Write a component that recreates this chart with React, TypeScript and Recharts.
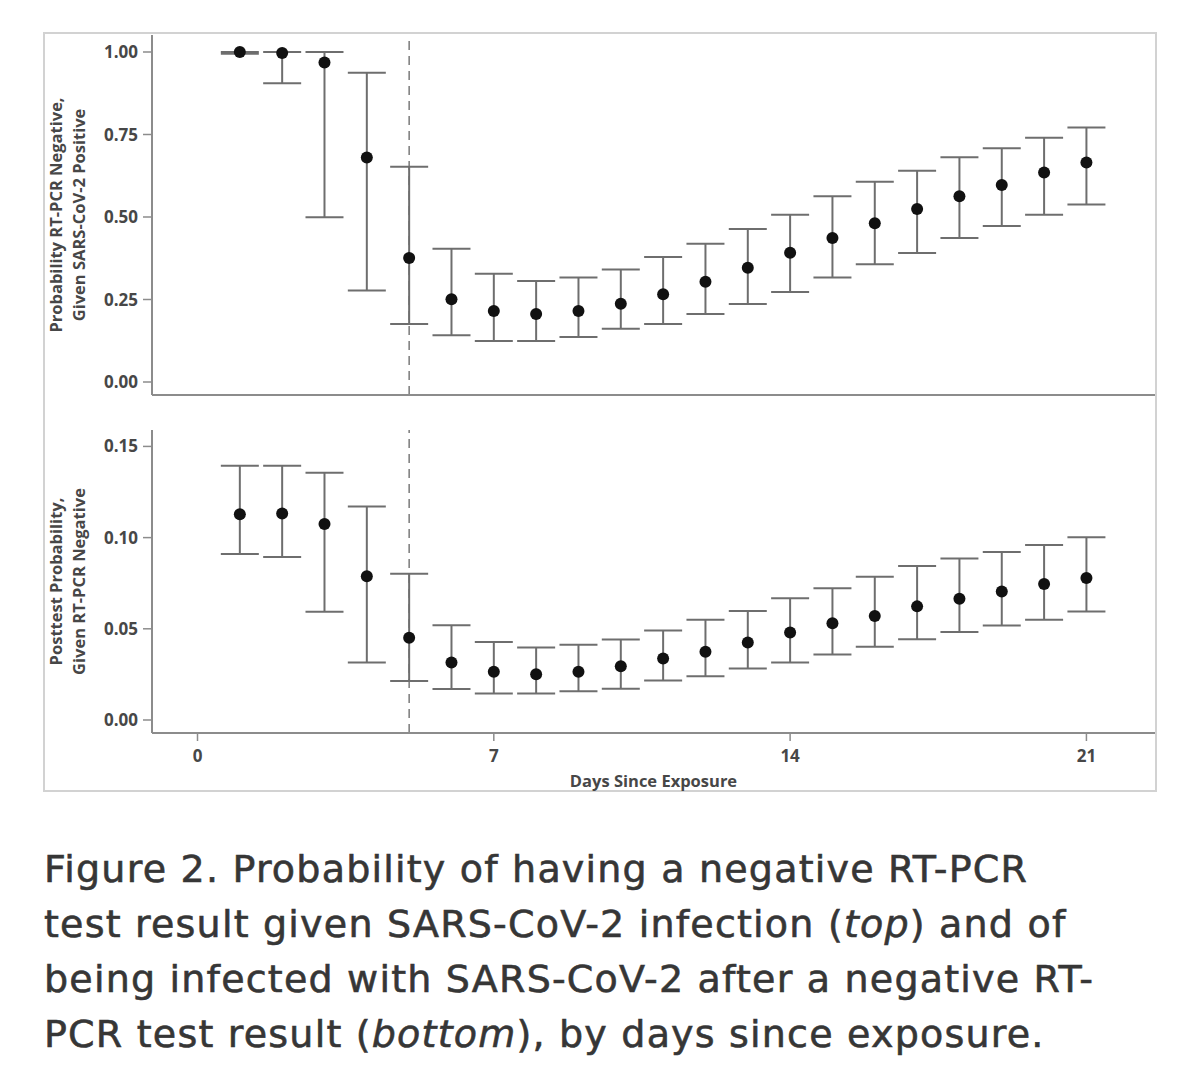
import React from 'react';
import { ScatterChart, Scatter, XAxis, YAxis, ErrorBar, ReferenceLine } from 'recharts';

// days since exposure
const days = [1, 2, 3, 4, 5, 6, 7, 8, 9, 10, 11, 12, 13, 14, 15, 16, 17, 18, 19, 20, 21];

// top: P(RT-PCR negative | infected)
const topMean = [1.0, 0.997, 0.968, 0.68, 0.376, 0.251, 0.215, 0.206, 0.215, 0.237, 0.266, 0.304, 0.346, 0.392, 0.436, 0.481, 0.524, 0.563, 0.597, 0.635, 0.665];
const topLow = [0.995, 0.905, 0.499, 0.277, 0.176, 0.142, 0.124, 0.124, 0.136, 0.161, 0.176, 0.206, 0.236, 0.273, 0.317, 0.357, 0.391, 0.436, 0.473, 0.507, 0.538];
const topHigh = [1.0, 1.0, 1.0, 0.937, 0.652, 0.404, 0.328, 0.306, 0.317, 0.341, 0.379, 0.419, 0.464, 0.507, 0.563, 0.607, 0.64, 0.681, 0.708, 0.74, 0.771];

// bottom: posttest probability given negative result
const bottomMean = [0.1128, 0.1132, 0.1075, 0.0788, 0.0451, 0.0315, 0.0264, 0.0251, 0.0264, 0.0295, 0.0337, 0.0374, 0.0425, 0.048, 0.0531, 0.057, 0.0623, 0.0665, 0.0705, 0.0746, 0.0779];
const bottomLow = [0.091, 0.0894, 0.0593, 0.0315, 0.0214, 0.017, 0.0145, 0.0145, 0.0158, 0.0172, 0.0216, 0.024, 0.0282, 0.0315, 0.0359, 0.0401, 0.0443, 0.0482, 0.0518, 0.0549, 0.0595];
const bottomHigh = [0.1394, 0.1394, 0.1355, 0.117, 0.0802, 0.052, 0.0427, 0.0397, 0.0412, 0.0441, 0.0491, 0.0549, 0.0597, 0.0667, 0.0723, 0.0786, 0.0844, 0.0885, 0.0921, 0.096, 0.1002];

const topTicks = [0, 0.25, 0.5, 0.75, 1];
const bottomTicks = [0, 0.05, 0.1, 0.15];
const dayTicks = [0, 7, 14, 21];
const cutoffDay = 5;

const topTitle = ['Probability RT-PCR Negative,', 'Given SARS-CoV-2 Positive'];
const bottomTitle = ['Posttest Probability,', 'Given RT-PCR Negative'];
const xTitle = 'Days Since Exposure';

const toRows = (mean: number[], low: number[], high: number[]) =>
  days.map((d, i) => ({ day: d, p: mean[i], err: [mean[i] - low[i], high[i] - mean[i]] }));

const topRows = toRows(topMean, topLow, topHigh);
const bottomRows = toRows(bottomMean, bottomLow, bottomHigh);

const AXIS = '#8c8c8c';
const BAR = '#6e6e6e';
const TEXT = '#474747';
const FONT = '"Open Sans", sans-serif';
const xDomain = [-1.075, 22.62];

const tickStyle = { fill: TEXT, fontSize: 17, fontWeight: 700, fontFamily: FONT };

const Dot = (props: any) => <circle cx={props.cx} cy={props.cy} r={6} fill="#111" />;

function YTitle({ lines, cy }: { lines: string[]; cy: number }) {
  return (
    <g>
      {lines.map((t, i) => {
        const x = 11 + i * 23;
        return (
          <text
            key={t}
            x={x}
            y={cy}
            transform={`rotate(-90 ${x} ${cy})`}
            textAnchor="middle"
            dominantBaseline="central"
            fill={TEXT}
            fontSize={16.5}
            fontWeight={700}
            fontFamily={FONT}
          >
            {t}
          </text>
        );
      })}
    </g>
  );
}

export default function App() {
  return (
    <div style={{ position: 'relative', width: 1184, height: 1054 }}>
      <div
        style={{
          position: 'absolute',
          left: 35,
          top: 24,
          width: 1110,
          height: 756,
          border: '2px solid #d2d2d2',
        }}
      />

      <div style={{ position: 'absolute', left: 36, top: 25 }}>
        <ScatterChart width={1112} height={370} margin={{ top: 2, right: 1, bottom: 0, left: 0 }}>
          <XAxis
            dataKey="day"
            type="number"
            domain={xDomain}
            allowDataOverflow
            height={8}
            tick={false}
            tickLine={false}
            axisLine={{ stroke: AXIS, strokeWidth: 2 }}
          />
          <YAxis
            dataKey="p"
            type="number"
            width={108}
            domain={[-0.0394, 1.0515]}
            allowDataOverflow
            ticks={topTicks}
            tickFormatter={(v: number) => v.toFixed(2)}
            tick={tickStyle}
            tickSize={9}
            tickMargin={5}
            tickLine={{ stroke: AXIS, strokeWidth: 1.5 }}
            axisLine={{ stroke: AXIS, strokeWidth: 2 }}
            label={{ content: () => <YTitle lines={topTitle} cy={182} /> }}
          />
          <ReferenceLine x={cutoffDay} stroke="#7a7a7a" strokeWidth={1.5} strokeDasharray="9 6" />
          <Scatter data={topRows} shape={Dot} isAnimationActive={false}>
            <ErrorBar dataKey="err" direction="y" width={19} stroke={BAR} strokeWidth={2} isAnimationActive={false} />
          </Scatter>
        </ScatterChart>
      </div>

      <div style={{ position: 'absolute', left: 36, top: 395 }}>
        <ScatterChart width={1112} height={388} margin={{ top: 27, right: 1, bottom: 0, left: 0 }}>
          <XAxis
            dataKey="day"
            type="number"
            domain={xDomain}
            allowDataOverflow
            height={58}
            ticks={dayTicks}
            tick={tickStyle}
            tickSize={8}
            tickMargin={9}
            tickLine={{ stroke: AXIS, strokeWidth: 1.5 }}
            axisLine={{ stroke: AXIS, strokeWidth: 2 }}
            label={{
              content: () => (
                <text
                  x={609.5}
                  y={377}
                  textAnchor="middle"
                  dominantBaseline="central"
                  fill={TEXT}
                  fontSize={16.5}
                  fontWeight={700}
                  fontFamily={FONT}
                >
                  {xTitle}
                </text>
              ),
            }}
          />
          <YAxis
            dataKey="p"
            type="number"
            width={108}
            domain={[-0.00713, 0.159]}
            allowDataOverflow
            ticks={bottomTicks}
            tickFormatter={(v: number) => v.toFixed(2)}
            tick={tickStyle}
            tickSize={9}
            tickMargin={5}
            tickLine={{ stroke: AXIS, strokeWidth: 1.5 }}
            axisLine={{ stroke: AXIS, strokeWidth: 2 }}
            label={{ content: () => <YTitle lines={bottomTitle} cy={178.5} /> }}
          />
          <ReferenceLine x={cutoffDay} stroke="#7a7a7a" strokeWidth={1.5} strokeDasharray="9 6" />
          <Scatter data={bottomRows} shape={Dot} isAnimationActive={false}>
            <ErrorBar dataKey="err" direction="y" width={19} stroke={BAR} strokeWidth={2} isAnimationActive={false} />
          </Scatter>
        </ScatterChart>
      </div>

      <div
        style={{
          position: 'absolute',
          left: 36,
          top: 834,
          fontFamily: '"DejaVu Sans", sans-serif',
          fontSize: 38,
          letterSpacing: 1.2,
          lineHeight: '55px',
          color: '#363636',
          WebkitTextStroke: '0.6px #363636',
          whiteSpace: 'nowrap',
        }}
      >
        Figure 2. Probability of having a negative RT-PCR
        <br />
        test result given SARS-CoV-2 infection (<i>top</i>) and of
        <br />
        being infected with SARS-CoV-2 after a negative RT-
        <br />
        PCR test result (<i>bottom</i>), by days since exposure.
      </div>
    </div>
  );
}
